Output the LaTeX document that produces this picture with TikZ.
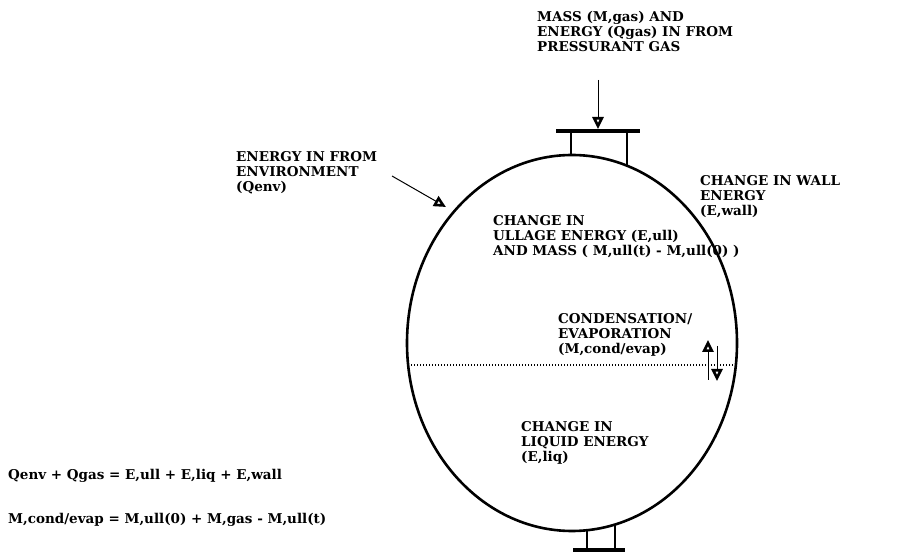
\documentclass[tikz,border=0pt]{standalone}
\usepackage{fontspec}
\setmainfont{DejaVu Serif}
\usetikzlibrary{arrows.meta}

\tikzset{
  lbl/.style={anchor=base west, align=left, inner sep=0pt,
    font=\fontsize{13.5}{15}\selectfont\bfseries},
  flow/.style={-{Triangle[open,width=11pt,length=12pt,line width=2.6pt]}, line width=1pt},
  tankwall/.style={line width=2.6pt},
  flange/.style={line width=3.6pt}
}

\begin{document}
\begin{tikzpicture}
      [x=1pt, y=-1pt]
      \useasboundingbox (0,0) rectangle (906,553);

      % tank shell
      \draw[tankwall] (572,343) ellipse [x radius=165, y radius=188];

      % top nozzle
      \draw[flange] (556,131) -- (640,131);
      \draw[tankwall] (571,131) -- (571,155);
      \draw[tankwall] (627,131) -- (627,166);
      % bottom nozzle
      \draw[tankwall] (587,529) -- (587,550);
      \draw[tankwall] (615,524) -- (615,550);
      \draw[flange] (573,550) -- (625,550);

      % liquid level
      \draw[line width=1.4pt, dash pattern=on 0.8pt off 2.2pt] (408,365) -- (736,365);

      % base anchor = last line, so y is the last baseline
      \node[lbl] (gas) at (537,52) {MASS (M,gas) AND\\ENERGY (Qgas) IN FROM\\PRESSURANT GAS};
      \node[lbl] (env) at (236,192) {ENERGY IN FROM\\ENVIRONMENT\\(Qenv)};
      \node[lbl] (wall) at (700,216) {CHANGE IN WALL\\ENERGY\\(E,wall)};
      \node[lbl] (ull) at (493,256) {CHANGE IN\\ULLAGE ENERGY (E,ull)\\AND MASS ( M,ull(t) - M,ull(0) )};
      \node[lbl] (cond) at (558,354) {CONDENSATION/\\EVAPORATION\\(M,cond/evap)};
      \node[lbl] (liq) at (521,462) {CHANGE IN\\LIQUID ENERGY\\(E,liq)};
      \node[lbl] (eqa) at (8,480) {Qenv + Qgas = E,ull + E,liq + E,wall};
      \node[lbl] (eqb) at (8,524) {M,cond/evap = M,ull(0) + M,gas - M,ull(t)};

      % flows in and across the level
      \coordinate (gastail) at (598,80);
      \coordinate (gashead) at (598,129);
      \coordinate (envtail) at (392,176);
      \coordinate (envhead) at (446,207);
      \coordinate (uptail) at (708,380);
      \coordinate (uphead) at (708,340);
      \coordinate (dntail) at (717,346);
      \coordinate (dnhead) at (717,381);
      \draw[flow, line width=0.6pt] (gastail) -- (gashead);
      \draw[flow] (envtail) -- (envhead);
      \draw[flow] (uptail) -- (uphead);
      \draw[flow] (dntail) -- (dnhead);
\end{tikzpicture}
\end{document}
